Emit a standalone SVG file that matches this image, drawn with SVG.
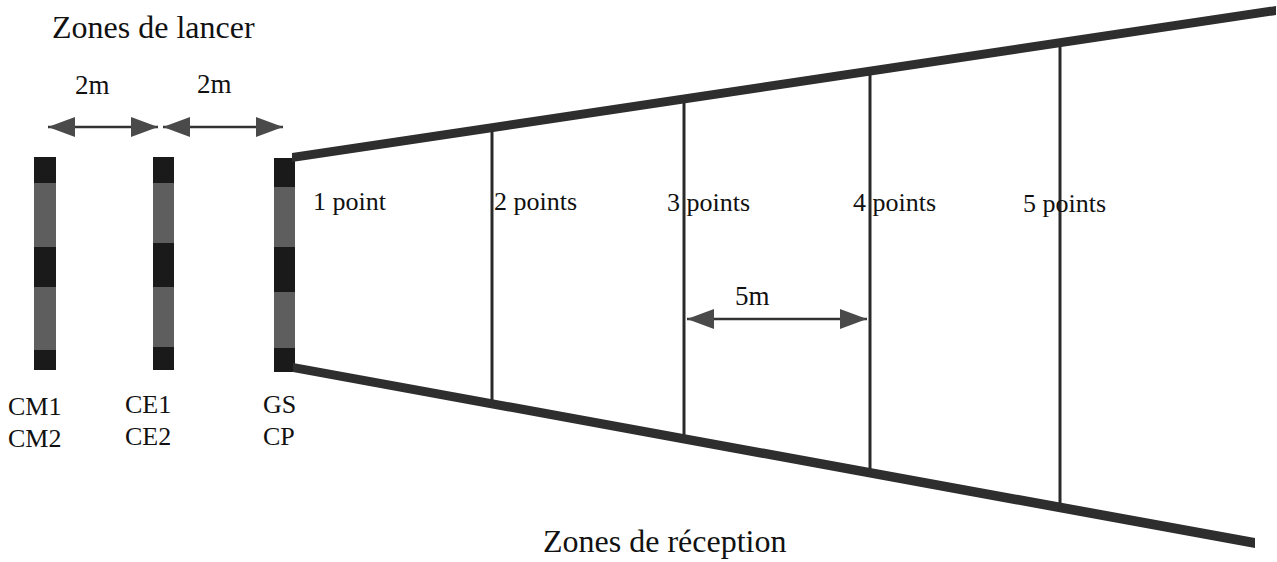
<svg xmlns="http://www.w3.org/2000/svg" width="1277" height="562" viewBox="0 0 1277 562">
<style>
.t{font-family:"Liberation Serif","Times New Roman",serif;fill:#111;}
.big{font-size:32px;}
.lab{font-size:26px;}
.dim{font-size:27px;}
.dark{fill:#1a1a1a;}
.gray{fill:#5e5e5e;}
.edge{fill:#2e2e2e;}
.div{stroke:#2a2a2a;stroke-width:3;fill:none;}
.arr{stroke:#333;stroke-width:2.5;fill:none;marker-start:url(#ah);marker-end:url(#ah);}
</style>
<defs>
<marker id="ah" viewBox="0 0 27 20" refX="27" refY="10" markerWidth="27" markerHeight="20" markerUnits="userSpaceOnUse" orient="auto-start-reverse">
<path d="M0,0 L27,10 L0,20 Z" fill="#4a4a4a"/>
</marker>
</defs>
<rect width="1277" height="562" fill="#fff"/>

<g id="title-lancer"><text class="t big" x="52" y="38">Zones de lancer</text></g>
<g id="title-reception"><text class="t big" x="543" y="552">Zones de réception</text></g>

<g id="bar-cm">
<rect class="gray" x="34" y="157" width="22" height="213"/>
<rect class="dark" x="34" y="157" width="22" height="26"/>
<rect class="dark" x="34" y="247" width="22" height="40"/>
<rect class="dark" x="34" y="350" width="22" height="20"/>
<text class="t lab" x="8" y="415">CM1</text>
<text class="t lab" x="8" y="447">CM2</text>
</g>
<g id="bar-ce">
<rect class="gray" x="153" y="157" width="21" height="213"/>
<rect class="dark" x="153" y="157" width="21" height="26"/>
<rect class="dark" x="153" y="243" width="21" height="44"/>
<rect class="dark" x="153" y="347" width="21" height="23"/>
<text class="t lab" x="125" y="413">CE1</text>
<text class="t lab" x="125" y="445">CE2</text>
</g>
<g id="bar-gs">
<rect class="gray" x="274" y="158" width="21" height="214"/>
<rect class="dark" x="274" y="158" width="21" height="29"/>
<rect class="dark" x="274" y="247" width="21" height="45"/>
<rect class="dark" x="274" y="348" width="21" height="24"/>
<text class="t lab" x="263" y="413">GS</text>
<text class="t lab" x="263" y="445">CP</text>
</g>

<g id="field">
<polygon class="edge" points="292,153 1276,6 1276,15 292,162"/>
<polygon class="edge" points="293,363 1255,538 1255,548 293,372"/>
<line class="div" x1="492" y1="131" x2="492" y2="400"/>
<line class="div" x1="684" y1="103" x2="684" y2="435"/>
<line class="div" x1="870" y1="75" x2="870" y2="469"/>
<line class="div" x1="1060" y1="47" x2="1060" y2="503"/>
</g>

<g id="zone-1"><text class="t lab" x="313" y="210">1 point</text></g>
<g id="zone-2"><text class="t lab" x="494" y="210">2 points</text></g>
<g id="zone-3"><text class="t lab" x="667" y="211">3 points</text></g>
<g id="zone-4"><text class="t lab" x="853" y="211">4 points</text></g>
<g id="zone-5"><text class="t lab" x="1023" y="212">5 points</text></g>

<g id="dim-labels">
<text class="t dim" x="75" y="94">2m</text>
<text class="t dim" x="197" y="93">2m</text>
<text class="t dim" x="735" y="305">5m</text>
</g>

<g id="connectors">
<line class="arr" x1="48" y1="127" x2="158" y2="127"/>
<line class="arr" x1="163" y1="127" x2="283" y2="127"/>
<line class="arr" x1="687" y1="319" x2="867" y2="319"/>
</g>
</svg>
